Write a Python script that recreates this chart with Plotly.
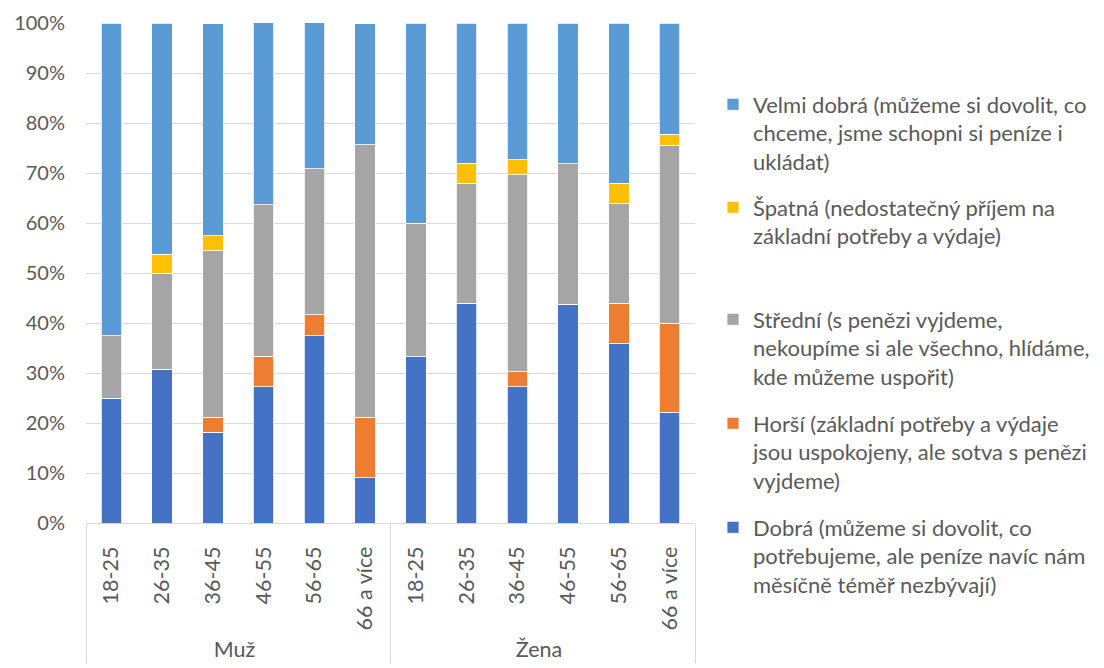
import plotly.graph_objects as go

groups = ["Muž"] * 6 + ["Žena"] * 6
ages = ["18-25", "26-35", "36-45", "46-55", "56-65", "66 a více"] * 2

dobra = [25.0, 30.8, 18.2, 27.3, 37.5, 9.1, 33.3, 44.0, 27.3, 43.75, 36.0, 22.2]
horsi = [0, 0, 3.0, 6.1, 4.2, 12.1, 0, 0, 3.0, 0, 8.0, 17.8]
stredni = [12.5, 19.2, 33.3, 30.3, 29.2, 54.5, 26.7, 24.0, 39.4, 28.1, 20.0, 35.6]
spatna = [0, 3.8, 3.0, 0, 0, 0, 0, 4.0, 3.0, 0, 4.0, 2.2]
velmi = [62.5, 46.2, 42.4, 36.4, 29.2, 24.2, 40.0, 28.0, 27.3, 28.1, 32.0, 22.2]

names = [
    "Dobrá (můžeme si dovolit, co<br>potřebujeme, ale peníze navíc nám<br>měsíčně téměř nezbývají)",
    "Horší (základní potřeby a výdaje<br>jsou uspokojeny, ale sotva s penězi<br>vyjdeme)",
    "Střední (s penězi vyjdeme,<br>nekoupíme si ale všechno, hlídáme,<br>kde můžeme uspořit)",
    "Špatná (nedostatečný příjem na<br>základní potřeby a výdaje)",
    "Velmi dobrá (můžeme si dovolit, co<br>chceme, jsme schopni si peníze i<br>ukládat)",
]
series = [dobra, horsi, stredni, spatna, velmi]
colors = ["#4472C4", "#ED7D31", "#A5A5A5", "#FFC000", "#5B9BD5"]
legend_ids = ["legend5", "legend4", "legend3", "legend2", "legend"]
# legend marker centres (px from top of page) for each series
legend_top_px = [527, 423, 319, 207, 104]

W, H = 1104, 668
OFF = 8  # page body margin offset
FONT = "Lato"
TXT = "#595959"

fig = go.Figure()
for name, vals, col, lid in zip(names, series, colors, legend_ids):
    fig.add_trace(go.Bar(
        x=[groups, ages], y=vals, name=name,
        marker=dict(color=col, line=dict(color="white", width=0.8)),
        legend=lid,
    ))

layout_legends = {}
for lid, ypx in zip(legend_ids, legend_top_px):
    layout_legends[lid] = dict(
        xref="container", yref="container",
        x=705 / W, y=1 - (ypx - 28.5) / H,
        xanchor="left", yanchor="top",
        font=dict(family=FONT, size=22, color=TXT),
        bgcolor="rgba(0,0,0,0)", valign="top",
        itemclick=False, itemdoubleclick=False,
    )

fig.update_layout(
    width=W, height=H,
    margin=dict(l=86 - OFF, r=W - (695 - OFF), t=23 - OFF, b=H - (523 - OFF)),
    barmode="stack", bargap=0.6,
    plot_bgcolor="white", paper_bgcolor="white",
    font=dict(family=FONT, size=22, color=TXT),
    showlegend=True,
    **layout_legends,
)
fig.update_yaxes(
    range=[0, 100], dtick=10, ticksuffix="%",
    showgrid=True, gridcolor="#D9D9D9", gridwidth=1,
    zeroline=False, showline=False, automargin=False,
    tickfont=dict(family=FONT, size=20, color=TXT),
    ticklabelstandoff=20,
)
fig.update_xaxes(
    type="multicategory", tickangle=-90, automargin=False,
    showline=True, linecolor="#D9D9D9", linewidth=1,
    showdividers=True, dividercolor="#D9D9D9", dividerwidth=1,
    tickfont=dict(family=FONT, size=21.5, color=TXT),
    ticklabelstandoff=14,
)
fig.write_html("out.html")
